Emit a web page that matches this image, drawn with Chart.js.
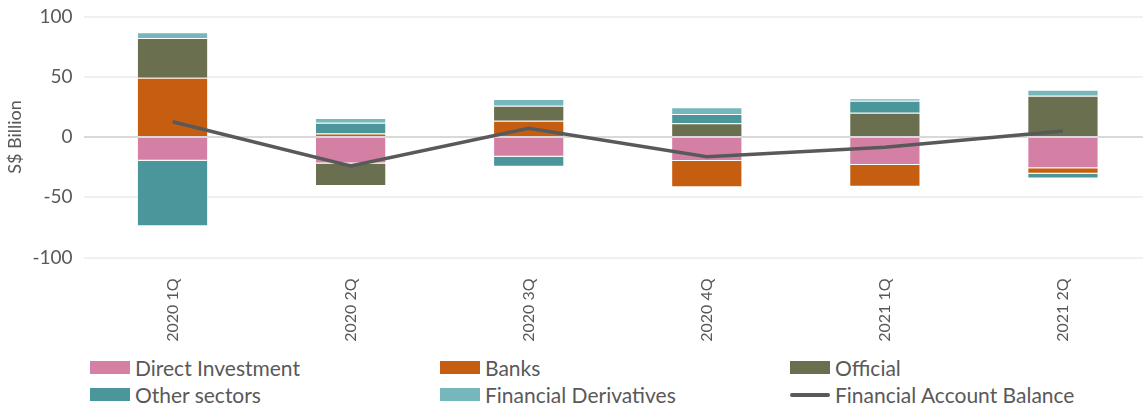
<!DOCTYPE html>
<html>
<head>
<meta charset="utf-8">
<script src="https://cdn.jsdelivr.net/npm/chart.js@4"></script>
<style>
  html, body { margin: 0; padding: 0; background: #fff; overflow: hidden; }
  #wrap { position: relative; width: 1143px; height: 408px; overflow: hidden; }
  #cv { position: absolute; left: 0; top: 0; }
  .leg { position: absolute; font-family: Lato, "Open Sans", sans-serif; font-size: 21px; color: #595959; white-space: nowrap; line-height: 22px; }
  .sw { position: absolute; left: 0; top: 4px; width: 40px; height: 13px; }
  .ln { position: absolute; left: 0; top: 9px; width: 40px; height: 4px; background: #595959; border-radius: 2px; }
  .lt { position: absolute; left: 45px; top: 0; }
</style>
</head>
<body>
<div id="wrap">
  <canvas id="cv" width="1152" height="345" style="width:1152px;height:345px"></canvas>
  <div id="legend"></div>
</div>
<script>
const categories = ["2020 1Q", "2020 2Q", "2020 3Q", "2020 4Q", "2021 1Q", "2021 2Q"];
const directInvestment = [-19.7, -22.0, -16.3, -19.9, -23.2, -26.0];
const banks = [49.2, 3.0, 13.5, -21.8, -18.0, -4.6];
const official = [33.0, -18.7, 12.5, 11.4, 20.2, 34.2];
const otherSectors = [-54.4, 8.9, -8.3, 7.7, 9.9, -3.9];
const financialDerivatives = [4.7, 3.9, 5.5, 5.5, 2.0, 5.0];
const financialAccountBalance = [12.7, -24.0, 7.2, -16.3, -8.5, 5.0];
const yTicks = [-100, -50, 0, 50, 100];

const FONT = 'Lato, "Open Sans", sans-serif';
const TXT = '#595959';

const series = [
  { label: "Direct Investment", data: directInvestment, color: "#D480A5" },
  { label: "Banks", data: banks, color: "#C65E12" },
  { label: "Official", data: official, color: "#6A704F" },
  { label: "Other sectors", data: otherSectors, color: "#4A969B" },
  { label: "Financial Derivatives", data: financialDerivatives, color: "#76B7BC" }
];

const datasets = series.map(s => ({
  type: 'bar',
  label: s.label,
  data: s.data,
  backgroundColor: s.color,
  borderColor: 'rgba(255,255,255,0.55)',
  borderWidth: 1,
  stack: 'bars',
  order: 2,
  barPercentage: 0.4,
  categoryPercentage: 1.0
}));
datasets.push({
  type: 'line',
  label: "Financial Account Balance",
  data: financialAccountBalance,
  borderColor: TXT,
  borderWidth: 3.5,
  pointRadius: 0,
  tension: 0,
  stack: 'line',
  order: 0
});

new Chart(document.getElementById('cv'), {
  data: { labels: categories, datasets },
  options: {
    responsive: false,
    animation: false,
    layout: { padding: { top: 16.5, right: 0, bottom: 0, left: 0 } },
    plugins: { legend: { display: false }, tooltip: { enabled: false } },
    scales: {
      x: {
        stacked: true,
        grid: { display: false },
        border: { display: false },
        ticks: { color: TXT, font: { family: FONT, size: 16 }, minRotation: 90, maxRotation: 90, padding: 13 },
        afterFit(scale) { scale.height = 87.5; scale.paddingLeft = 0; scale.paddingRight = 0; }
      },
      y: {
        stacked: true,
        min: -100, max: 100,
        afterBuildTicks(scale) { scale.ticks = yTicks.map(v => ({ value: v })); },
        grid: {
          drawTicks: false,
          color: ctx => (ctx.tick && ctx.tick.value === 0) ? '#D9D9D9' : '#F0F0F0',
          lineWidth: 2
        },
        border: { display: false },
        ticks: { color: TXT, font: { family: FONT, size: 19 }, padding: 11 },
        title: { display: true, text: 'S$ Billion', color: TXT, font: { family: FONT, size: 18 }, padding: { top: 4, bottom: 0 } },
        afterFit(scale) { scale.width = 83.5; scale.paddingTop = 0; scale.paddingBottom = 0; }
      }
    }
  }
});

// HTML legend (grid of 3 columns, 2 rows)
const legendItems = [
  { label: "Direct Investment", color: "#D480A5", x: 90, y: 357 },
  { label: "Banks", color: "#C65E12", x: 440, y: 357 },
  { label: "Official", color: "#6A704F", x: 790, y: 357 },
  { label: "Other sectors", color: "#4A969B", x: 90, y: 384 },
  { label: "Financial Derivatives", color: "#76B7BC", x: 440, y: 384 },
  { label: "Financial Account Balance", color: null, x: 790, y: 384 }
];
const lg = document.getElementById('legend');
legendItems.forEach(it => {
  const d = document.createElement('div');
  d.className = 'leg';
  d.style.left = it.x + 'px';
  d.style.top = it.y + 'px';
  const sw = document.createElement('div');
  if (it.color) { sw.className = 'sw'; sw.style.background = it.color; } else { sw.className = 'ln'; }
  const t = document.createElement('span');
  t.className = 'lt';
  t.textContent = it.label;
  d.appendChild(sw); d.appendChild(t);
  lg.appendChild(d);
});
</script>
</body>
</html>
